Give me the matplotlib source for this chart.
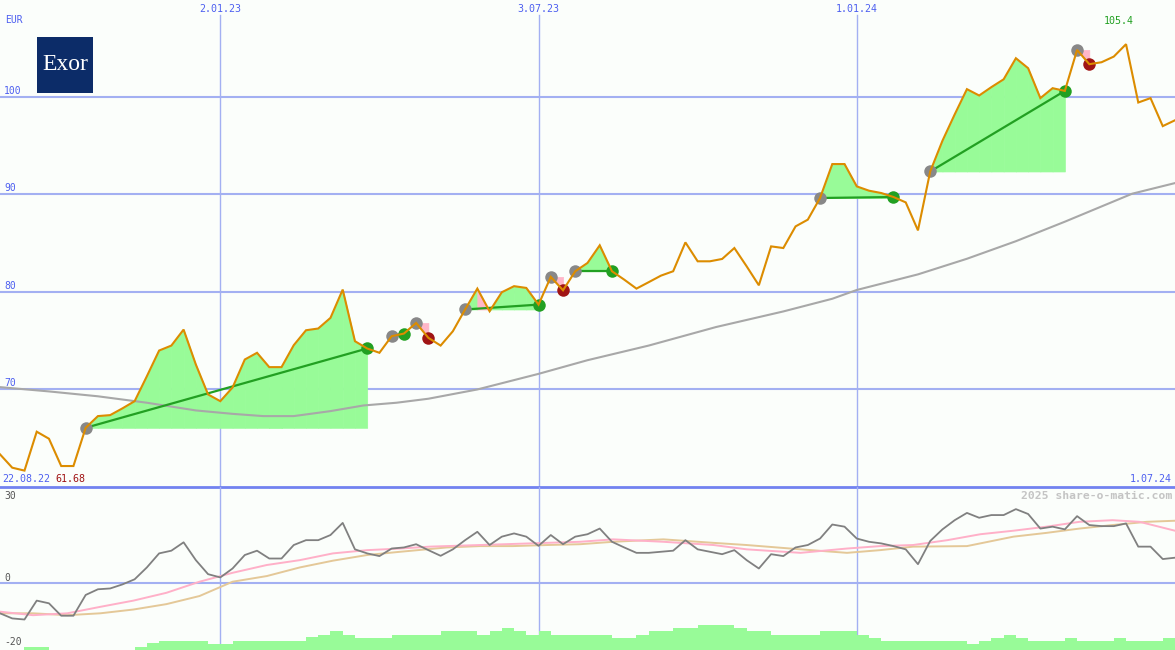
import matplotlib
matplotlib.use("Agg")
import matplotlib.pyplot as plt

# ---------------- data (weekly, week 0 = 29.08.22, week 96 = 1.07.24) ----------------
price = [63.35, 61.98, 61.68, 65.67, 64.95, 62.15, 62.15, 66.07, 67.27, 67.37,
         68.06, 68.80, 71.36, 73.99, 74.50, 76.14, 72.56, 69.49, 68.80, 70.20,
         73.07, 73.76, 72.29, 72.29, 74.54, 76.07, 76.25, 77.34, 80.24, 74.95,
         74.20, 73.76, 75.46, 75.73, 76.82, 75.29, 74.50, 75.97, 78.20, 80.34,
         78.02, 79.97, 80.59, 80.41, 78.70, 81.54, 80.17, 82.12, 82.97, 84.78,
         82.12, 81.26, 80.34, 81.00, 81.67, 82.12, 85.08, 83.14, 83.14, 83.38,
         84.50, 82.63, 80.68, 84.67, 84.50, 86.72, 87.41, 89.63, 93.11, 93.11,
         90.82, 90.38, 90.14, 89.73, 89.18, 86.31, 92.35, 95.50, 98.20, 100.79,
         100.14, 101.00, 101.80, 103.96, 102.94, 99.87, 100.89, 100.61, 104.81, 103.35,
         103.55, 104.13, 105.40, 99.42, 99.87, 97.00, 97.60]
weeks = list(range(len(price)))

# long moving average (week, value)
ma_weeks = [0, 4, 8, 12, 16, 19, 21.5, 24, 27, 29.7, 32.4, 35, 39, 44, 48, 53,
            58.5, 64, 68, 70, 75, 79, 83, 87, 92.5, 96]
ma_vals = [70.24, 69.8, 69.3, 68.64, 67.85, 67.5, 67.27, 67.27, 67.78, 68.36, 68.64,
           69.05, 70.0, 71.6, 73.0, 74.5, 76.4, 78.0, 79.3, 80.2, 81.8, 83.4, 85.2,
           87.2, 90.07, 91.16]

# trades: entry week, exit week
entries = [7, 32, 34, 38, 45, 47, 67, 76, 88]
exits = [30, 33, 35, 44, 46, 50, 73, 87, 89]

# lower panel: momentum (weekly)
momentum = [-11.2, -13.1, -13.5, -6.5, -7.5, -12.1, -12.1, -4.4, -2.3, -2.0,
            -0.5, 1.4, 5.8, 11.0, 12.0, 15.1, 8.5, 3.3, 2.1, 5.4,
            10.4, 12.0, 9.1, 9.1, 14.1, 15.9, 15.9, 17.8, 22.3, 12.5,
            11.0, 10.0, 12.8, 13.2, 14.4, 12.2, 10.1, 12.5, 15.9, 19.0,
            14.1, 17.2, 18.4, 17.2, 13.8, 17.8, 14.4, 17.2, 18.1, 20.2,
            15.3, 13.2, 11.2, 11.2, 11.6, 12.0, 15.9, 12.5, 11.6, 10.7,
            12.2, 8.5, 5.4, 10.7, 10.0, 13.2, 14.1, 16.5, 21.7, 20.9,
            16.5, 15.3, 14.7, 13.7, 12.5, 7.0, 15.6, 19.9, 23.3, 26.0,
            24.2, 25.2, 25.2, 27.4, 25.6, 20.2, 20.9, 19.9, 24.8, 21.5,
            21.1, 21.1, 22.1, 13.5, 13.5, 8.9, 9.4]

fast_weeks = [0, 2.7, 5.5, 8.2, 10.9, 13.6, 16.3, 19.0, 21.8, 24.5, 27.2, 30.0, 32.7,
              35.1, 39.2, 43.3, 47.4, 50.1, 54.2, 58.3, 61.0, 65.4, 69.2, 71.9, 74.6,
              77.4, 80.1, 82.8, 85.5, 88.2, 90.9, 93.1, 96.0]
fast_vals = [-10.6, -11.9, -11.2, -8.8, -6.5, -3.6, 0.5, 3.8, 6.7, 8.5, 11.0, 12.2, 12.8,
             13.5, 14.1, 14.7, 15.3, 16.2, 15.3, 14.1, 12.5, 11.2, 12.8, 13.7, 14.1,
             15.9, 18.1, 19.4, 20.9, 22.7, 23.3, 22.7, 19.4]

slow_weeks = [0, 2.7, 5.5, 8.2, 10.9, 13.6, 16.3, 19.0, 21.8, 24.5, 27.2, 30.0, 32.7,
              36.5, 39.2, 41.9, 44.7, 47.4, 50.1, 54.2, 58.3, 61.0, 65.4, 69.2, 71.9,
              74.6, 79.0, 82.8, 85.5, 88.2, 90.9, 93.7, 96.0]
slow_vals = [-11.2, -11.2, -11.9, -11.2, -9.8, -7.8, -4.8, 0.5, 2.6, 5.8, 8.3, 10.4, 11.6,
             13.2, 13.7, 13.7, 14.1, 14.4, 15.3, 16.2, 14.9, 14.1, 12.5, 11.2, 12.2,
             13.5, 13.7, 17.2, 18.6, 20.2, 21.5, 22.7, 23.1]

# volume-like bars (weekly, relative)
volume = [0, 0, 3.3, 3.3, 0, 0, 0, 0, 0, 0,
          0, 3.3, 6.7, 9.3, 9.3, 9.3, 9.3, 6, 6, 9.3,
          9.3, 9.3, 9.3, 9.3, 9.3, 12.7, 15, 19.3, 15, 12.2,
          12.2, 12.2, 15, 15, 15, 15, 19, 19, 19, 15,
          19, 22, 19, 15, 19, 15, 15, 15, 15, 15,
          11.7, 11.7, 15, 19, 19, 22, 22, 25, 25, 25,
          22, 19, 19, 15, 15, 15, 15, 19, 19, 19,
          15, 11.7, 9, 9, 9, 9, 9, 9, 9, 6,
          9, 11.7, 15, 11.7, 9, 9, 9, 11.7, 9, 9,
          9, 11.7, 9, 9, 9, 11.7]

grid_levels = [70, 80, 90, 100]
date_weeks = [18, 44, 70]
date_labels = ["2.01.23", "3.07.23", "1.01.24"]
lower_levels = [30, 0, -20]
start_label, end_label = "22.08.22", "1.07.24"
min_label, max_label = "61.68", "105.4"

# ---------------- styles ----------------
BG = "#fbfefb"
GRID = "#a3b0f2"
SEP = "#7282f0"
TXT = "#4d5ff0"
ORANGE = "#dc8c00"
FILL_G = "#98fb98"
PINK = "#ffb6c8"
GLINE = "#22a022"
RED = "#a01414"
GDOT = "#888888"
MONO = "DejaVu Sans Mono"

fig = plt.figure(figsize=(11.75, 6.5), dpi=100, facecolor=BG)
split = 163 / 650
ax = fig.add_axes([0, split, 1, 1 - split])
axl = fig.add_axes([0, 0, 1, split])
for a in (ax, axl):
    a.set_axis_off()
    a.set_xlim(0, 96)
ax.set_ylim(60, 109.93)
axl.set_ylim(-24.8, 35.6)

# grid
for v in grid_levels:
    ax.axhline(v, color=GRID, lw=1.5, zorder=1)
for w in date_weeks:
    ax.axvline(w, ymin=0, ymax=1 - 15 / 487, color=GRID, lw=1.0, zorder=1)
    axl.axvline(w, color=GRID, lw=1.0, zorder=1)
axl.axhline(0, color=GRID, lw=1.5, zorder=1)
ax.axhline(60, color=SEP, lw=2.0, zorder=6, clip_on=False)

# trades
for i, j in zip(entries, exits):
    e = price[i]
    for k in range(i, j):
        c = FILL_G if price[k + 1] >= e else PINK
        ax.fill_between(weeks[k:k + 2], price[k:k + 2], e, color=c, lw=0.5,
                        edgecolor=c, zorder=2)
    win = price[j] >= e
    if win:
        ax.plot([weeks[i], weeks[j]], [e, price[j]], color=GLINE, lw=1.6, zorder=3)

ax.plot(ma_weeks, ma_vals, color="#a8a8a8", lw=1.5, zorder=2.5)

for i, j in zip(entries, exits):
    win = price[j] >= price[i]
    ax.plot(weeks[i], price[i], "o", color=GDOT, ms=9, mew=0, zorder=4)
    ax.plot(weeks[j], price[j], "o", color=GLINE if win else RED, ms=9, mew=0, zorder=4)

ax.plot(weeks, price, color=ORANGE, lw=1.5, zorder=5, solid_joinstyle="miter")

# labels main
for v in grid_levels:
    ax.annotate(str(v), xy=(0, v), xycoords=("axes fraction", "data"),
                xytext=(4, 1), textcoords="offset pixels", va="bottom", ha="left",
                color=TXT, fontsize=7, family=MONO)
for w, lab in zip(date_weeks, date_labels):
    ax.text(w, 1 - 9 / 487, lab, transform=ax.get_xaxis_transform(), ha="center",
            va="center", color=TXT, fontsize=7.2, family=MONO)
fig.text(5 / 1175, 1 - 20 / 650, "EUR", color=TXT, fontsize=7, family=MONO,
         va="center", ha="left")
ax.text(2 / 1175, 8 / 487, start_label, transform=ax.transAxes, ha="left", va="center",
        color=TXT, fontsize=7.2, family=MONO)
ax.text(55 / 1175, 8 / 487, min_label, transform=ax.transAxes, ha="left", va="center",
        color=RED, fontsize=7.2, family=MONO)
ax.text(1172 / 1175, 8 / 487, end_label, transform=ax.transAxes, ha="right", va="center",
        color=TXT, fontsize=7.2, family=MONO)
ax.text(1119 / 1175, 1 - 21 / 487, max_label, transform=ax.transAxes, ha="center",
        va="center", color=GLINE, fontsize=7.2, family=MONO)

# logo
lax = fig.add_axes([37 / 1175, (650 - 93) / 650, 56 / 1175, 56 / 650])
lax.set_facecolor("#0c2c68")
lax.set_xticks([]); lax.set_yticks([])
for s in lax.spines.values():
    s.set_visible(False)
lax.text(0.5, 0.5, "Exor", color="white", fontsize=17, family="Liberation Serif",
         ha="center", va="center", transform=lax.transAxes)

# lower panel
axv = axl.twinx()
axv.set_axis_off()
axv.set_ylim(0, 163)
axv.bar(weeks[:-1], volume, width=1, align="edge", color=FILL_G, lw=0, zorder=1)

axl.plot(slow_weeks, slow_vals, color="#e4c898", lw=1.4, zorder=3)
axl.plot(fast_weeks, fast_vals, color="#ffb0c8", lw=1.4, zorder=3)
axl.plot(weeks, momentum, color="#808080", lw=1.3, zorder=4)

for v, off in zip(lower_levels, [6, 5, -5]):
    axl.annotate(str(v), xy=(0, v), xycoords=("axes fraction", "data"),
                 xytext=(4, off), textcoords="offset pixels", va="center", ha="left",
                 color="#555555", fontsize=7, family=MONO)
axl.text(1172 / 1175, (650 - 496) / 163, "2025 share-o-matic.com", transform=axl.transAxes,
         ha="right", va="center", color="#c4c4c4", fontsize=8.2, family=MONO,
         fontweight="bold")

fig.savefig("out.png", dpi=100, facecolor=BG)
